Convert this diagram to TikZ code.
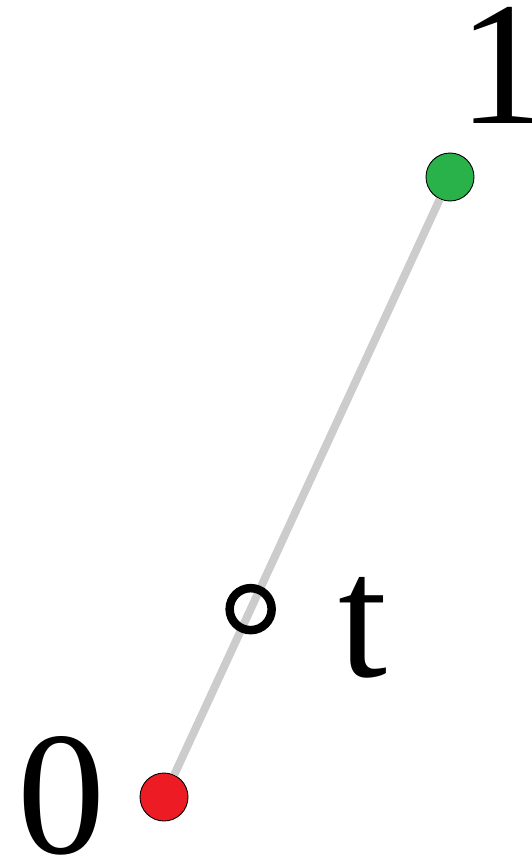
\documentclass[tikz,border=0pt]{standalone}
\usepackage{fontspec}
\setmainfont{Liberation Serif}
\usetikzlibrary{calc}

\begin{document}
\begin{tikzpicture}[
  x=1pt, y=-1pt,
  dot/.style={circle, draw=black, line width=0.9pt, inner sep=0pt, minimum size=48pt},
  seg/.style={draw=black!20, line width=8pt},
  ring/.style={circle, draw=black, line width=8.5pt, inner sep=0pt, minimum size=42pt},
  lbl/.style={anchor=base, inner sep=0pt, font=\fontsize{176}{176}\selectfont},
]
\useasboundingbox (0,0) rectangle (531,859);

%% end points
\node[dot, fill={rgb,255:red,237;green,28;blue,36}] (zero) at (164,797) {};
\node[dot, fill={rgb,255:red,42;green,178;blue,74}] (one) at (450,177) {};

%% segment, then the parameter point on it
\draw[seg] (zero) -- (one);
\node[ring] (tpt) at ($(zero)!0.303!(one)$) {};

%% labels
\node[lbl] (lone)  at (502,123) {1};
\node[lbl] (lzero) at (61,853)  {0};
\node[lbl] (lt)    at (363,676) {t};
\end{tikzpicture}
\end{document}
